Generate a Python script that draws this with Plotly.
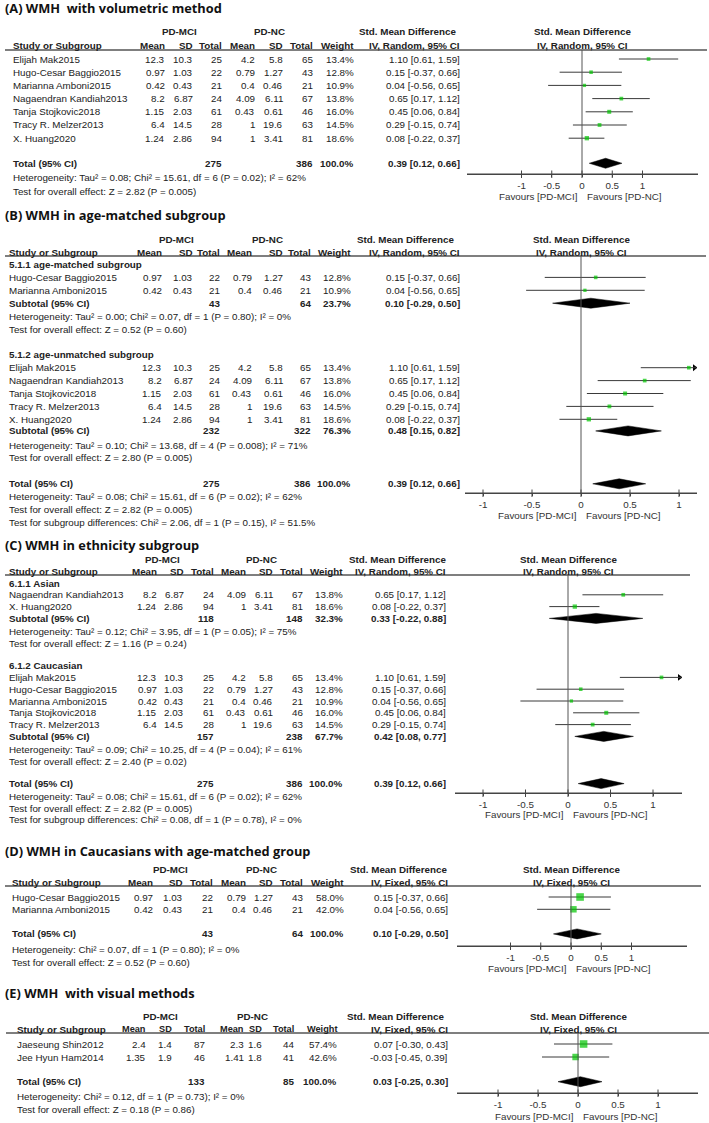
import math
import plotly.graph_objects as go

W, H = 709, 1123

# ---------------- data ----------------
# volumetric-method studies
vol_studies = ["Elijah Mak2015", "Hugo-Cesar Baggio2015", "Marianna Amboni2015",
               "Nagaendran Kandiah2013", "Tanja Stojkovic2018", "Tracy R. Melzer2013", "X. Huang2020"]
vol_mci_mean = [12.3, 0.97, 0.42, 8.2, 1.15, 6.4, 1.24]
vol_mci_sd = [10.3, 1.03, 0.43, 6.87, 2.03, 14.5, 2.86]
vol_mci_n = [25, 22, 21, 24, 61, 28, 94]
vol_nc_mean = [4.2, 0.79, 0.4, 4.09, 0.43, 1, 1]
vol_nc_sd = [5.8, 1.27, 0.46, 6.11, 0.61, 19.6, 3.41]
vol_nc_n = [65, 43, 21, 67, 46, 63, 81]
vol_weight_random = [13.4, 12.8, 10.9, 13.8, 16.0, 14.5, 18.6]
vol_smd = [1.10, 0.15, 0.04, 0.65, 0.45, 0.29, 0.08]
vol_lo = [0.61, -0.37, -0.56, 0.17, 0.06, -0.15, -0.22]
vol_hi = [1.59, 0.66, 0.65, 1.12, 0.84, 0.74, 0.37]

# fixed-effect weights of the age-matched Caucasian studies (Hugo, Marianna)
cauc_matched_idx = [1, 2]
cauc_matched_weight = [58.0, 42.0]

# visual-method studies
vis_studies = ["Jaeseung Shin2012", "Jee Hyun Ham2014"]
vis_mci_mean = [2.4, 1.35]
vis_mci_sd = [1.4, 1.9]
vis_mci_n = [87, 46]
vis_nc_mean = [2.3, 1.41]
vis_nc_sd = [1.6, 1.8]
vis_nc_n = [44, 41]
vis_weight = [57.4, 42.6]
vis_smd = [0.07, -0.03]
vis_lo = [-0.30, -0.45]
vis_hi = [0.43, 0.39]

# pooled estimates: [n PD-MCI, n PD-NC, weight %, SMD, lower, upper]
pooled_all = [275, 386, 100.0, 0.39, 0.12, 0.66]
pooled_age_matched = [43, 64, 23.7, 0.10, -0.29, 0.50]
pooled_age_unmatched = [232, 322, 76.3, 0.48, 0.15, 0.82]
pooled_asian = [118, 148, 32.3, 0.33, -0.22, 0.88]
pooled_caucasian = [157, 238, 67.7, 0.42, 0.08, 0.77]
pooled_cauc_matched = [43, 64, 100.0, 0.10, -0.29, 0.50]
pooled_visual = [133, 85, 100.0, 0.03, -0.25, 0.30]

age_matched_idx = [1, 2]
age_unmatched_idx = [0, 3, 4, 5, 6]
asian_idx = [3, 6]
caucasian_idx = [0, 1, 2, 4, 5]

het_all = "Heterogeneity: Tau² = 0.08; Chi² = 15.61, df = 6 (P = 0.02); I² = 62%"
z_all = "Test for overall effect: Z = 2.82 (P = 0.005)"
het_age_m = "Heterogeneity: Tau² = 0.00; Chi² = 0.07, df = 1 (P = 0.80); I² = 0%"
z_age_m = "Test for overall effect: Z = 0.52 (P = 0.60)"
het_age_u = "Heterogeneity: Tau² = 0.10; Chi² = 13.68, df = 4 (P = 0.008); I² = 71%"
z_age_u = "Test for overall effect: Z = 2.80 (P = 0.005)"
sub_age = "Test for subgroup differences: Chi² = 2.06, df = 1 (P = 0.15), I² = 51.5%"
het_asian = "Heterogeneity: Tau² = 0.12; Chi² = 3.95, df = 1 (P = 0.05); I² = 75%"
z_asian = "Test for overall effect: Z = 1.16 (P = 0.24)"
het_cauc = "Heterogeneity: Tau² = 0.09; Chi² = 10.25, df = 4 (P = 0.04); I² = 61%"
z_cauc = "Test for overall effect: Z = 2.40 (P = 0.02)"
sub_eth = "Test for subgroup differences: Chi² = 0.08, df = 1 (P = 0.78), I² = 0%"
het_cm = "Heterogeneity: Chi² = 0.07, df = 1 (P = 0.80); I² = 0%"
z_cm = "Test for overall effect: Z = 0.52 (P = 0.60)"
het_vis = "Heterogeneity: Chi² = 0.12, df = 1 (P = 0.73); I² = 0%"
z_vis = "Test for overall effect: Z = 0.18 (P = 0.86)"

tick_vals = [-1, -0.5, 0, 0.5, 1]
tick_text = ["-1", "-0.5", "0", "0.5", "1"]

# ---------------- style ----------------
BODY = "Liberation Sans, Arial, sans-serif"
TITLEF = "Open Sans, Noto Sans, sans-serif"
FS = 9.8
TXT = "#222222"
LINE = "#555555"
AXC = "#444444"
GREEN = "#00c400"

fig = go.Figure()
ann = []
shapes = []


def py(ypx):
    return 1 - ypx / H


def T(x, y, s, anchor="left", bold=False, size=FS, font=BODY, color=TXT):
    ann.append(dict(x=x / W, y=py(y), xref="paper", yref="paper",
                    text=f"<b>{s}</b>" if bold else s, showarrow=False,
                    xanchor=anchor, yanchor="middle", borderpad=0,
                    font=dict(family=font, size=size, color=color)))


def fnum(v):
    return f"{v:g}"


def fci(e, l, h):
    return f"{e:.2f} [{l:.2f}, {h:.2f}]"


def study_row(i, idx, ds, weight):
    return dict(kind="study", i=i, name=ds["names"][idx], m1=ds["m1"][idx], s1=ds["s1"][idx],
                n1=ds["n1"][idx], m2=ds["m2"][idx], s2=ds["s2"][idx], n2=ds["n2"][idx],
                w=weight, e=ds["e"][idx], lo=ds["lo"][idx], hi=ds["hi"][idx])


VOL = dict(names=vol_studies, m1=vol_mci_mean, s1=vol_mci_sd, n1=vol_mci_n, m2=vol_nc_mean,
           s2=vol_nc_sd, n2=vol_nc_n, e=vol_smd, lo=vol_lo, hi=vol_hi)
VIS = dict(names=vis_studies, m1=vis_mci_mean, s1=vis_mci_sd, n1=vis_mci_n, m2=vis_nc_mean,
           s2=vis_nc_sd, n2=vis_nc_n, e=vis_smd, lo=vis_lo, hi=vis_hi)


def pooled_row(i, label, p):
    return dict(kind="pooled", i=i, name=label, n1=p[0], n2=p[1], w=p[2], e=p[3], lo=p[4], hi=p[5])


def note(i, s):
    return dict(kind="note", i=i, text=s)


def group(i, s):
    return dict(kind="group", i=i, text=s)


def add_panel(k, P, rows):
    xa = "x" if k == 1 else f"x{k}"
    ya = "y" if k == 1 else f"y{k}"
    xkey = "xaxis" if k == 1 else f"xaxis{k}"
    ykey = "yaxis" if k == 1 else f"yaxis{k}"
    rng = [(P["ax0"] - P["zero"]) / P["unit"], (P["ax1"] - P["zero"]) / P["unit"]]
    fig.layout[xkey] = dict(domain=[P["ax0"] / W, P["ax1"] / W], range=rng, anchor=ya,
                            showline=True, linecolor=AXC, linewidth=1, showgrid=False,
                            zeroline=False, ticks="outside", ticklen=2, tickcolor=AXC,
                            tickwidth=1, tickvals=tick_vals, ticktext=tick_text,
                            tickfont=dict(family=BODY, size=FS, color="#333"), fixedrange=True)
    fig.layout[ykey] = dict(domain=[py(P["axis_y"]), py(P["line_y"])],
                            range=[P["axis_y"], P["line_y"]], anchor=xa, visible=False,
                            fixedrange=True)
    c = P["cols"]
    hfs = P.get("hfs", FS)
    T(4, P["title_y"], P["title"], bold=True, size=12.8, font=TITLEF, color="#111")
    T(P["pdmci"], P["hdr1"], "PD-MCI", "center", True)
    T(P["pdnc"], P["hdr1"], "PD-NC", "center", True)
    T(P["smd"], P["hdr1"], "Std. Mean Difference", "center", True)
    T(P["zero"], P["hdr1"], "Std. Mean Difference", "center", True)
    T(P["left"], P["hdr2"], "Study or Subgroup", "left", True)
    for x, s in zip(c, ["Mean", "SD", "Total", "Mean", "SD", "Total", "Weight"]):
        T(x, P["hdr2"], s, "right", True, size=hfs)
    T(P["ci"], P["hdr2"], P["method"], "right", True)
    T(P["zero"], P["hdr2"], P["method"], "center", True)
    T(P["zero"] - 3, P["axis_y"] + P["fav"], "Favours [PD-MCI]", "right", color="#333")
    T(P["zero"] + 4, P["axis_y"] + P["fav"], "Favours [PD-NC]", "left", color="#333")
    # table header rule and zero reference line
    shapes.append(dict(type="line", xref="paper", yref="paper", x0=P["lx0"] / W, x1=P["lx1"] / W,
                       y0=py(P["line_y"]), y1=py(P["line_y"]), line=dict(color=LINE, width=1.3)))
    shapes.append(dict(type="line", xref=xa, yref="paper", x0=0, x1=0, y0=py(P["line_y"]),
                       y1=py(P["axis_y"]), line=dict(color=LINE, width=1)))
    # axis baseline and crossing tick marks
    shapes.append(dict(type="line", xref=xa, yref="paper", x0=rng[0], x1=rng[1],
                       y0=py(P["axis_y"]), y1=py(P["axis_y"]), line=dict(color=AXC, width=1.2)))
    for tv in tick_vals:
        shapes.append(dict(type="line", xref=xa, yref="paper", x0=tv, x1=tv,
                           y0=py(P["axis_y"] - 3.5), y1=py(P["axis_y"] + 4),
                           line=dict(color=AXC, width=1)))

    sx, sy, ss, ep, em = [], [], [], [], []
    for r in rows:
        y = P["row0"] + r["i"] * P["pitch"]
        if r["kind"] == "study":
            T(P["left"], y, r["name"])
            vals = [fnum(r["m1"]), fnum(r["s1"]), str(r["n1"]), fnum(r["m2"]), fnum(r["s2"]),
                    str(r["n2"]), f"{r['w']:.1f}%"]
            for x, s in zip(c, vals):
                T(x, y, s, "right")
            T(P["ci"], y, fci(r["e"], r["lo"], r["hi"]), "right")
            hi_d = min(r["hi"], rng[1] - 0.5 / P["unit"])
            sx.append(r["e"]); sy.append(y); ss.append(math.sqrt(r["w"]))
            ep.append(hi_d - r["e"]); em.append(r["e"] - r["lo"])
            if r["hi"] > rng[1]:
                fig.add_trace(go.Scatter(x=[rng[1] - 2.5 / P["unit"]], y=[y], xaxis=xa, yaxis=ya,
                                         mode="markers", hoverinfo="skip", showlegend=False,
                                         marker=dict(symbol="triangle-right", size=6,
                                                     color="black")))
        elif r["kind"] == "pooled":
            T(P["left"], y, r["name"], "left", True)
            T(c[2], y, str(r["n1"]), "right", True)
            T(c[5], y, str(r["n2"]), "right", True)
            T(c[6], y, f"{r['w']:.1f}%", "right", True)
            T(P["ci"], y, fci(r["e"], r["lo"], r["hi"]), "right", True)
            hh = 5
            fig.add_trace(go.Scatter(x=[r["lo"], r["e"], r["hi"], r["e"], r["lo"]],
                                     y=[y, y - hh, y, y + hh, y], xaxis=xa, yaxis=ya,
                                     mode="lines", fill="toself", fillcolor="black",
                                     line=dict(color="black", width=0.5), hoverinfo="skip",
                                     showlegend=False))
        elif r["kind"] == "group":
            T(P["left"], y, r["text"], "left", True)
        else:
            T(P["left"], y, r["text"], "left")
    fig.add_trace(go.Scatter(x=sx, y=sy, xaxis=xa, yaxis=ya, mode="markers",
                             hoverinfo="skip", showlegend=False,
                             marker=dict(symbol="square", size=ss, color=GREEN, line=dict(width=0)),
                             error_x=dict(type="data", symmetric=False, array=ep, arrayminus=em,
                                          color="#3a3a3a", thickness=1, width=0)))


RAND = "IV, Random, 95% CI"
FIXED = "IV, Fixed, 95% CI"

# ---- Panel A ----
PA = dict(title="(A) WMH \u00a0with volumetric method", title_y=8, hdr1=32, hdr2=45, line_y=50,
          lx0=5, lx1=707, row0=59, pitch=13.2, axis_y=174, ax0=467, ax1=698, zero=582, unit=60.5,
          left=12, cols=[166, 194, 223, 256, 284, 314, 355], ci=461, pdmci=179, pdnc=269,
          smd=407, method=RAND, fav=22)
rows_A = [study_row(j, j, VOL, vol_weight_random[j]) for j in range(len(vol_studies))]
rows_A += [pooled_row(7.9, "Total (95% CI)", pooled_all), note(9, het_all), note(10, z_all)]
add_panel(1, PA, rows_A)

# ---- Panel B ----
PB = dict(title="(B) WMH in age-matched subgroup", title_y=215, hdr1=239, hdr2=252, line_y=256,
          lx0=5, lx1=706, row0=264.5, pitch=12.9, axis_y=493, ax0=465, ax1=697, zero=581,
          unit=98, left=8, cols=[163, 194, 221, 253, 284, 312, 352], ci=461, pdmci=176,
          pdnc=267, smd=405, method=RAND, fav=22)
rows_B = [group(0, "5.1.1 age-matched subgroup")]
rows_B += [study_row(1 + n, j, VOL, vol_weight_random[j]) for n, j in enumerate(age_matched_idx)]
rows_B += [pooled_row(3, "Subtotal (95% CI)", pooled_age_matched), note(4.05, het_age_m),
           note(5, z_age_m), group(7, "5.1.2 age-unmatched subgroup")]
rows_B += [study_row(8 + n, j, VOL, vol_weight_random[j]) for n, j in enumerate(age_unmatched_idx)]
rows_B += [pooled_row(12.9, "Subtotal (95% CI)", pooled_age_unmatched), note(14, het_age_u),
           note(15, z_age_u), pooled_row(17, "Total (95% CI)", pooled_all), note(18, het_all),
           note(19, z_all), note(20, sub_age)]
add_panel(2, PB, rows_B)

# ---- Panel C ----
PC = dict(title="(C) WMH in ethnicity subgroup", title_y=545, hdr1=559, hdr2=571, line_y=575,
          lx0=5, lx1=690, row0=583, pitch=11.8, axis_y=793, ax0=455, ax1=682, zero=568,
          unit=85, left=8, cols=[158, 185, 215, 247, 274, 304, 344], ci=447, pdmci=162,
          pdnc=261, smd=397, method=RAND, fav=21.5)
rows_C = [group(0, "6.1.1 Asian")]
rows_C += [study_row(1 + n, j, VOL, vol_weight_random[j]) for n, j in enumerate(asian_idx)]
rows_C += [pooled_row(3, "Subtotal (95% CI)", pooled_asian), note(4.1, het_asian),
           note(5.1, z_asian), group(7, "6.1.2 Caucasian")]
rows_C += [study_row(8 + n, j, VOL, vol_weight_random[j]) for n, j in enumerate(caucasian_idx)]
rows_C += [pooled_row(13, "Subtotal (95% CI)", pooled_caucasian), note(14.1, het_cauc),
           note(15.1, z_cauc), pooled_row(17, "Total (95% CI)", pooled_all), note(18.1, het_all),
           note(19.1, z_all), note(20.05, sub_eth)]
add_panel(3, PC, rows_C)

# ---- Panel D ----
PD = dict(title="(D) WMH in Caucasians with age-matched group", title_y=851, hdr1=869, hdr2=882,
          line_y=886, lx0=5, lx1=701, row0=897, pitch=12.3, axis_y=946, ax0=457, ax1=687,
          zero=571, unit=60.5, left=11, cols=[154, 184, 214, 247, 274, 304, 345], ci=449,
          pdmci=170, pdnc=261, smd=398, method=FIXED, fav=22.5)
rows_D = [study_row(n, j, VOL, cauc_matched_weight[n]) for n, j in enumerate(cauc_matched_idx)]
rows_D += [pooled_row(3, "Total (95% CI)", pooled_cauc_matched), note(4.3, het_cm),
           note(5.3, z_cm)]
add_panel(4, PD, rows_D)

# ---- Panel E ----
PE = dict(title="(E) WMH \u00a0with visual methods", title_y=993, hdr1=1016, hdr2=1029,
          line_y=1033, lx0=6, lx1=709, row0=1044, pitch=13, axis_y=1093, ax0=457, ax1=698,
          zero=578, unit=80, left=16, cols=[147, 173, 206, 245, 263, 295, 338], ci=449,
          pdmci=160, pdnc=252, smd=395, method=FIXED, fav=23, hfs=9.2)
rows_E = [study_row(n, n, VIS, vis_weight[n]) for n in range(len(vis_studies))]
rows_E += [pooled_row(2.9, "Total (95% CI)", pooled_visual), note(4.05, het_vis),
           note(5.05, z_vis)]
add_panel(5, PE, rows_E)

fig.update_layout(width=W, height=H, margin=dict(l=0, r=0, t=0, b=0),
                  paper_bgcolor="white", plot_bgcolor="rgba(0,0,0,0)",
                  annotations=ann, shapes=shapes, showlegend=False, hovermode=False)
fig.write_html("out.html", config={"displayModeBar": False, "staticPlot": True},
               post_script="document.body.style.margin='0';")
